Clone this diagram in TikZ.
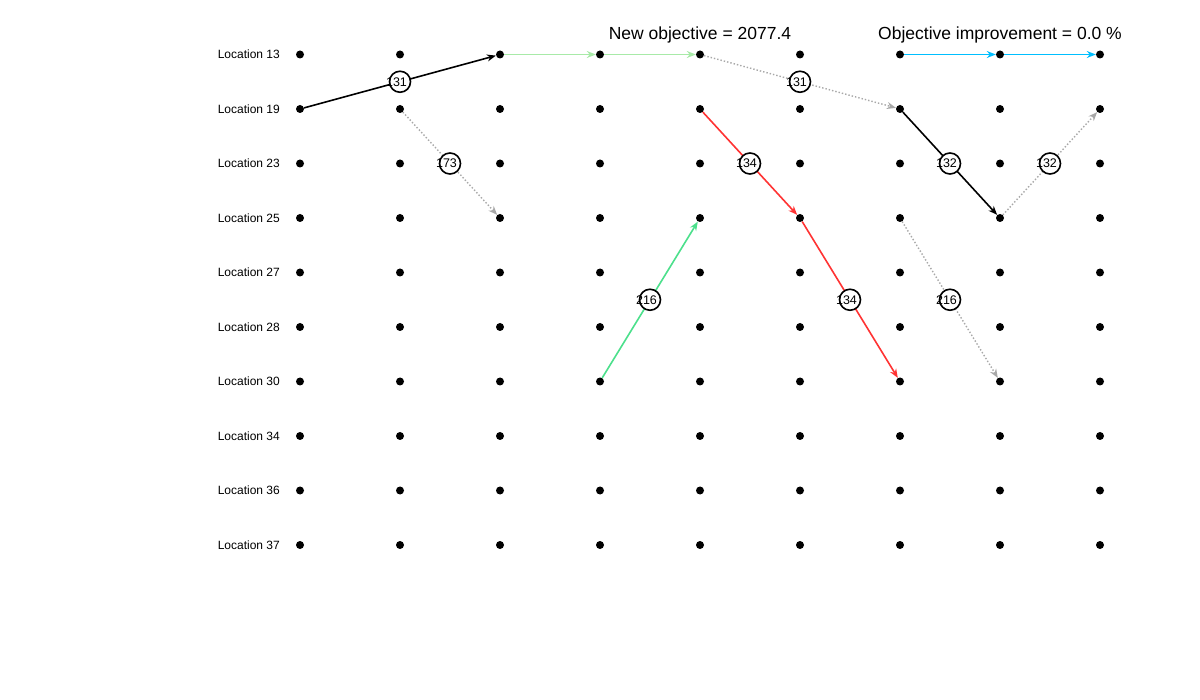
\documentclass[tikz,border=0pt]{standalone}
\usepackage{fontspec}
\setmainfont{Liberation Sans}
\usetikzlibrary{arrows.meta,calc}
\definecolor{lgreen}{HTML}{A8EAA8}
\definecolor{mgreen}{HTML}{4CE08C}
\definecolor{ered}{HTML}{FF3333}
\definecolor{eblue}{HTML}{00BFFF}
\definecolor{egray}{HTML}{A8A8A8}
\begin{document}
\begin{tikzpicture}[x=1pt,y=-1pt,
  dot/.style={circle,fill=black,inner sep=0pt,minimum size=8pt},
  loclab/.style={anchor=east,font=\fontsize{12}{14}\selectfont,inner sep=0pt},
  title/.style={font=\fontsize{17.5}{20}\selectfont,inner sep=0pt},
  edge/.style={line width=1.6pt,-{Stealth[length=9pt,width=7pt]}},
  gedge/.style={line width=1.4pt,dotted,egray,-{Stealth[length=9pt,width=7pt]}},
  numc/.style={circle,draw=black,line width=1.6pt,fill=white,minimum size=21pt,inner sep=0pt},
  numt/.style={font=\fontsize{12.5}{14}\selectfont,inner sep=0pt}]
\useasboundingbox (0,0) rectangle (1200,700);
\fill[white] (0,0) rectangle (1200,700);
% grid of dots
\foreach \i in {0,...,8}
  \foreach \j in {0,...,9}
    \coordinate (q\i-\j) at ({300+100*\i},{54.5+54.5*\j});
% labels
\foreach \j/\l in {0/13,1/19,2/23,3/25,4/27,5/28,6/30,7/34,8/36,9/37}
  \node[loclab] (l\j) at (280,{54.5+54.5*\j}) {Location \l};
% titles
\node[title] (t1) at (700,35) {New objective = 2077.4};
\node[title] (t2) at (1000,35) {Objective improvement = 0.0 \%};
% dots
\foreach \i in {0,...,8}
  \foreach \j in {0,...,9}
    \node[dot] (p\i-\j) at (q\i-\j) {};
% edges
\draw[edge,black] (p0-1) -- (p2-0);
\draw[gedge] (p1-1) -- (p2-3);
\draw[edge,lgreen] (p2-0) -- (p3-0);
\draw[edge,lgreen] (p3-0) -- (p4-0);
\draw[gedge] (p4-0) -- (p6-1);
\draw[edge,ered] (p4-1) -- (p5-3);
\draw[edge,ered] (p5-3) -- (p6-6);
\draw[edge,mgreen] (p3-6) -- (p4-3);
\draw[edge,black] (p6-1) -- (p7-3);
\draw[gedge] (p7-3) -- (p8-1);
\draw[edge,eblue] (p6-0) -- (p7-0);
\draw[edge,eblue] (p7-0) -- (p8-0);
\draw[gedge] (p6-3) -- (p7-6);
% number circles
\foreach \n/\a/\b/\t in {c1/q0-1/q2-0/131, c2/q1-1/q2-3/173, c3/q4-0/q6-1/131,
   c4/q4-1/q5-3/134, c5/q5-3/q6-6/134, c6/q3-6/q4-3/216,
   c7/q6-1/q7-3/132, c8/q7-3/q8-1/132, c9/q6-3/q7-6/216}{
  \node[numc] (\n) at ($(\a)!0.5!(\b)$) {};
  \node[numt] (\n t) at ([xshift=-3.5pt]\n.center) {\t};
}
\end{tikzpicture}
\end{document}
